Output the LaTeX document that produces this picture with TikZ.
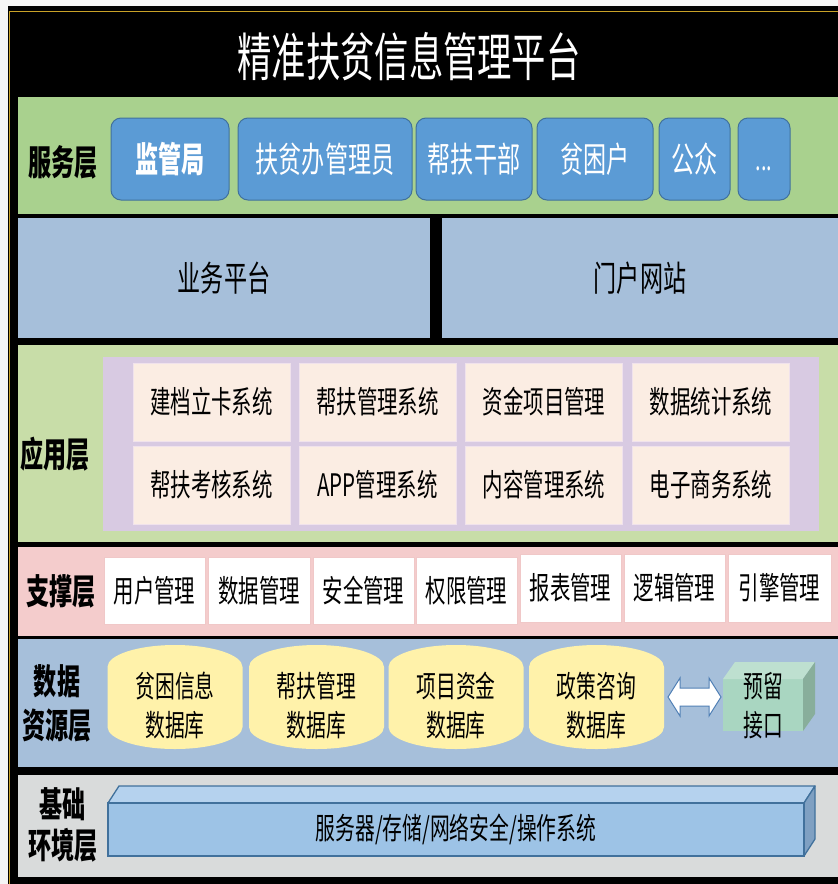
\documentclass[tikz,border=0pt]{standalone}
\usepackage{fontspec}
\setmainfont{Noto Sans CJK SC}[FakeStretch=0.66]
\definecolor{svcgreen}{HTML}{A9D18E}
\definecolor{appgreen}{HTML}{C8DDA8}
\definecolor{layblue}{HTML}{A6BFDA}
\definecolor{purp}{HTML}{D8CAE2}
\definecolor{cellbg}{HTML}{FBEDE3}
\definecolor{cellbd}{HTML}{F0E2EC}
\definecolor{pinkl}{HTML}{F4CCCC}
\definecolor{supbd}{HTML}{F0C8C8}
\definecolor{grayl}{HTML}{D9DBDB}
\definecolor{svcblue}{HTML}{5B9BD5}
\definecolor{svcedge}{HTML}{41719C}
\definecolor{dbfill}{HTML}{FFF2AA}
\definecolor{cubefront}{HTML}{A9D6C1}
\definecolor{cubetop}{HTML}{BEE0D0}
\definecolor{cubeside}{HTML}{88AE9B}
\definecolor{basefront}{HTML}{9DC3E6}
\definecolor{basetop}{HTML}{B5D2EE}
\definecolor{baseside}{HTML}{7FA0C2}
\definecolor{arrowedge}{HTML}{4F7FB5}
\definecolor{gold}{HTML}{C9A227}
\newcommand\fsz[1]{\fontsize{#1}{#1}\selectfont}
\begin{document}
\begin{tikzpicture}[x=1pt,y=-1pt,
  every node/.style={inner sep=0pt, outer sep=0pt},
  svcbox/.style={rounded corners=10pt, fill=svcblue, draw=svcedge, line width=1pt,
    minimum height=82pt, text=white, font=\fsz{35}},
  cellbox/.style={fill=cellbg, draw=cellbd, line width=0.8pt,
    minimum width=157pt, minimum height=78pt, font=\fsz{31}},
  supbox/.style={fill=white, draw=supbd, line width=0.8pt,
    minimum height=67pt, font=\fsz{31}},
  lbl/.style={font=\bfseries\fontsize{35}{44}\selectfont, align=center},
  dbtext/.style={font=\fontsize{30}{39}\selectfont, align=center},
  laybox/.style={draw=none, anchor=north west}
]
\useasboundingbox (0,0) rectangle (838,884);
\fill[black!4] (0,0) rectangle (838,884);
\fill[black] (8,6) rectangle (838,884);
\draw[gold, line width=1.2pt] (9.5,884) -- (9.5,11.5) -- (838,11.5);

% title
\node[text=white, font=\fsz{52}] (title) at (409,57) {精准扶贫信息管理平台};

% service layer
\node[laybox, fill=svcgreen, minimum width=820pt, minimum height=117pt] (svc) at (18,97) {};
\node[lbl] (svclbl) at (63,162) {服务层};
\node[svcbox, minimum width=118pt, font=\bfseries\fsz{35}] (s1) at (170,159) {监管局};
\node[svcbox, minimum width=174pt] (s2) at (325,159) {扶贫办管理员};
\node[svcbox, minimum width=116pt] (s3) at (474,159) {帮扶干部};
\node[svcbox, minimum width=116pt] (s4) at (595,159) {贫困户};
\node[svcbox, minimum width=71pt] (s5) at (694.5,159) {公众};
\node[svcbox, minimum width=52pt, font=\fsz{30}] (s6) at (764,159) {\vphantom{公}...};

% platform row
\node[fill=layblue, minimum width=412pt, minimum height=120pt, font=\fsz{35}] (biz) at (224,278) {业务平台};
\node[fill=layblue, minimum width=396pt, minimum height=120pt, font=\fsz{35}] (portal) at (640,278) {门户网站};

% application layer
\node[laybox, fill=appgreen, minimum width=820pt, minimum height=197pt] (app) at (18,345) {};
\node[laybox, fill=purp, minimum width=716pt, minimum height=174pt] (appin) at (103,357) {};
\node[lbl] (applbl) at (55,454) {应用层};
\node[cellbox] (c11) at (211.5,402) {建档立卡系统};
\node[cellbox] (c12) at (377.5,402) {帮扶管理系统};
\node[cellbox] (c13) at (544,402) {资金项目管理};
\node[cellbox] (c14) at (711,402) {数据统计系统};
\node[cellbox] (c21) at (211.5,485) {帮扶考核系统};
\node[cellbox] (c22) at (377.5,485) {APP管理系统};
\node[cellbox] (c23) at (544,485) {内容管理系统};
\node[cellbox] (c24) at (711,485) {电子商务系统};

% support layer
\node[laybox, fill=pinkl, minimum width=820pt, minimum height=89pt] (sup) at (18,547) {};
\node[lbl] (suplbl) at (61,591) {支撑层};
\node[supbox, minimum width=101pt] (p1) at (154.5,590.5) {用户管理};
\node[supbox, minimum width=102pt] (p2) at (259,590.5) {数据管理};
\node[supbox, minimum width=101pt] (p3) at (363.5,590.5) {安全管理};
\node[supbox, minimum width=101pt] (p4) at (466.5,590.5) {权限管理};
\node[supbox, minimum width=101pt, minimum height=68pt] (p5) at (570.5,588) {报表管理};
\node[supbox, minimum width=101pt, minimum height=68pt] (p6) at (674.5,588) {逻辑管理};
\node[supbox, minimum width=103pt, minimum height=68pt] (p7) at (779.5,588) {引擎管理};

% data layer
\node[laybox, fill=layblue, minimum width=820pt, minimum height=128pt] (data) at (18,639) {};
\node[lbl] (datalbl) at (57,703) {数据\\资源层};
\foreach \cx in {175,316.5,456,596.5}{
  \fill[dbfill] (\cx-67.5,667) arc[start angle=180, end angle=360, x radius=67.5, y radius=22]
    -- (\cx+67.5,727) arc[start angle=0, end angle=180, x radius=67.5, y radius=22] -- cycle;
}
\node[dbtext] (db1) at (175,706) {贫困信息\\数据库};
\node[dbtext] (db2) at (316.5,706) {帮扶管理\\数据库};
\node[dbtext] (db3) at (456,706) {项目资金\\数据库};
\node[dbtext] (db4) at (596.5,706) {政策咨询\\数据库};
% double arrow
\draw[arrowedge, fill=white, line width=1pt, line join=miter]
  (668,697) -- (680,678) -- (680,688) -- (709,688) -- (709,678) -- (721,697)
  -- (709,716) -- (709,706) -- (680,706) -- (680,716) -- cycle;
% cube
\fill[cubefront] (723,679) rectangle (803,731);
\fill[cubetop] (723,679) -- (735,662) -- (815,662) -- (803,679) -- cycle;
\fill[cubeside] (803,679) -- (815,662) -- (815,714) -- (803,731) -- cycle;
\node[dbtext] (iface) at (763,706) {预留\\接口};

% base layer
\node[laybox, fill=grayl, minimum width=820pt, minimum height=102pt] (base) at (18,775) {};
\node[lbl, font=\bfseries\fontsize{35}{41}\selectfont] (baselbl) at (63,825) {基础\\环境层};
\draw[svcedge, line width=1.3pt, line join=round, fill=basetop] (108,803) -- (119,786) -- (815,786) -- (804,803) -- cycle;
\draw[svcedge, line width=1.3pt, line join=round, fill=baseside] (804,803) -- (815,786) -- (815,839) -- (804,856) -- cycle;
\node[draw=svcedge, line width=1.3pt, fill=basefront, minimum width=696pt, minimum height=53pt, font=\fsz{30}] (infra) at (456,829.5) {服务器/存储/网络安全/操作系统};
\end{tikzpicture}
\end{document}
